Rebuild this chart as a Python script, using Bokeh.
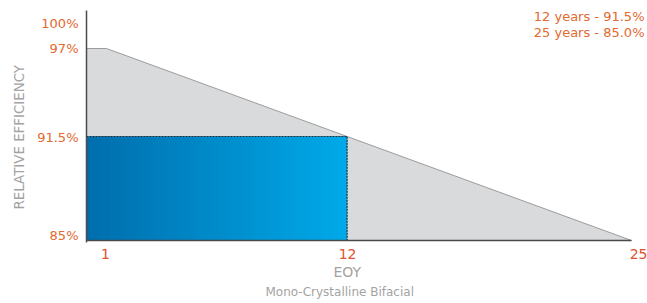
import numpy as np
from bokeh.plotting import figure
from bokeh.models import FixedTicker, Label, Range1d, Title
from bokeh.embed import file_html
from bokeh.resources import INLINE

# ---- data ----
years = [1, 12, 25]
efficiency = [97.0, 91.5, 85.0]
highlight_year = 12
highlight_eff = 91.5
x_tick_labels = ["1", "12", "25"]
y_tick_labels = ["85%", "91.5%", "97%", "100%"]
notes = ["12 years - 91.5%", "25 years - 85.0%"]
title_text = "Mono-Crystalline Bifacial"
x_label = "EOY"
y_label = "RELATIVE EFFICIENCY"

# ---- layout / style ----
X0, X1 = 0.0857, 25.64
Y0, Y1 = 84.875, 99.375
BASE = 85.0
x_tick_pos = [0.954, 12.02, 25.366]
y_tick_pos = [85.31, 91.44, 97.0, 98.56]
ORANGE = "#E2692F"
RED = "#E2512E"
GREY_TXT = "#A3A3A3"
FONT = "DejaVu Sans"

p = figure(width=647, height=303, output_backend="svg", toolbar_location=None,
           x_range=Range1d(X0, X1), y_range=Range1d(Y0, Y1),
           min_border_left=86, min_border_right=2, min_border_top=10, min_border_bottom=61)
p.outline_line_color = None
p.grid.visible = False
p.background_fill_color = "white"

# grey area under the degradation line
px = [X0] + years + [years[-1], X0]
py = [efficiency[0]] + efficiency + [BASE, BASE]
p.patch(px, py, fill_color="#D9DADC", line_color=None)
p.line([X0] + years, [efficiency[0]] + efficiency, line_color="#9C9C9C", line_width=1)

# gradient blue rectangle (strips)
n = 80
edges = np.linspace(X0, highlight_year, n + 1)
c0 = np.array([0x00, 0x6E, 0xAD])
c1 = np.array([0x00, 0xA9, 0xE8])
cols = []
for i in range(n):
    t = i / (n - 1)
    c = (c0 + (c1 - c0) * t).round().astype(int)
    cols.append("#%02x%02x%02x" % tuple(c))
rights = np.minimum(edges[1:] + 0.1, highlight_year)
p.quad(left=edges[:-1], right=rights, bottom=BASE, top=highlight_eff,
       fill_color=cols, line_color=None)
p.line([X0, highlight_year, highlight_year], [highlight_eff, highlight_eff, BASE],
       line_color="#1A2E40", line_dash="2 1", line_width=1.2)

# baseline (x axis line)
p.line([X0, years[-1]], [BASE, BASE], line_color="#4A4A4A", line_width=1.5)

# axes
p.xaxis.ticker = FixedTicker(ticks=x_tick_pos)
p.xaxis.major_label_overrides = {v: s for v, s in zip(x_tick_pos, x_tick_labels)}
p.xaxis.major_label_text_color = RED
p.xaxis.major_label_text_font = FONT
p.xaxis.major_label_text_font_size = "14px"
p.xaxis.major_tick_line_color = None
p.xaxis.minor_tick_line_color = None
p.xaxis.axis_line_color = None
p.xaxis.major_label_standoff = 0

p.yaxis.ticker = FixedTicker(ticks=y_tick_pos)
p.yaxis.major_label_overrides = {v: s for v, s in zip(y_tick_pos, y_tick_labels)}
p.yaxis.major_label_text_color = ORANGE
p.yaxis.major_label_text_font = FONT
p.yaxis.major_label_text_font_size = "13px"
p.yaxis.major_tick_line_color = None
p.yaxis.minor_tick_line_color = None
p.yaxis.axis_line_color = "#4A4A4A"
p.yaxis.axis_line_width = 1.5
p.yaxis.major_label_standoff = 2

p.add_layout(Title(text=y_label, align="left", offset=33, text_color=GREY_TXT,
                   text_font=FONT, text_font_size="13.4px", text_font_style="normal",
                   standoff=16), "left")
p.add_layout(Title(text=x_label, align="left", offset=247, text_color=GREY_TXT,
                   text_font=FONT, text_font_size="14px", text_font_style="normal",
                   standoff=0), "below")
p.add_layout(Title(text=title_text, align="left", offset=179, text_color=GREY_TXT,
                   text_font=FONT, text_font_size="12px", text_font_style="normal",
                   standoff=6), "below")
for i, s in enumerate(notes):
    p.add_layout(Label(x=25.594, y=99.0 - i * 1.0, text=s, text_align="right", text_baseline="middle",
                       text_color=ORANGE, text_font=FONT, text_font_size="13px"))

open("out.html", "w").write(file_html(p, INLINE))
